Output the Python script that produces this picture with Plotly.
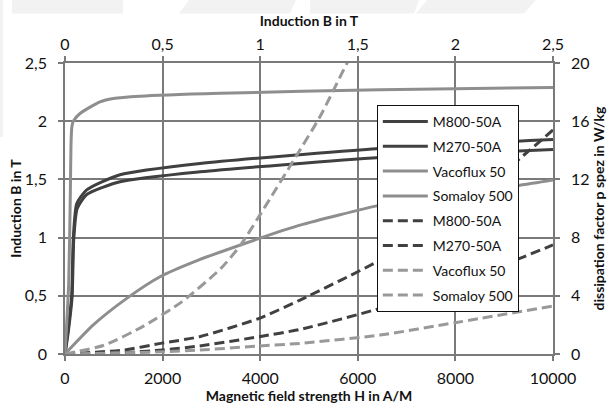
import plotly.graph_objects as go

# ---- Solid curves: B(H)  (bottom x: H in A/M, left y: B in T)
H_m800 = [0, 60, 135, 170, 240, 445, 1127, 2766, 6455, 10000]
B_m800 = [0, 0.2, 0.49, 0.99, 1.29, 1.41, 1.54, 1.637, 1.766, 1.843]
H_m270 = [0, 70, 145, 180, 250, 445, 1127, 2766, 6455, 10000]
B_m270 = [0, 0.2, 0.49, 0.99, 1.25, 1.37, 1.48, 1.565, 1.688, 1.757]
H_vaco = [0, 75, 110, 123, 140, 170, 307, 717, 990, 1537, 3176, 6455, 10000]
B_vaco = [0, 0.6, 1.4, 1.8, 1.95, 2.0, 2.066, 2.166, 2.195, 2.215, 2.24, 2.27, 2.29]
H_soma = [0, 580, 1265, 1947, 2630, 3982, 4816, 6455, 8000, 9324, 10000]
B_soma = [0, 0.25, 0.478, 0.664, 0.79, 0.993, 1.107, 1.279, 1.40, 1.45, 1.494]

# ---- Dashed curves: p(B)  (top x: B in T, right y: p in W/kg)
Bp_m800 = [0, 0.3, 0.49, 0.69, 0.995, 1.204, 1.614, 2.0, 2.35, 2.5]
P_m800 = [0, 0.27, 0.73, 1.19, 2.45, 3.71, 6.45, 9.7, 13.66, 15.4]
Bp_m270 = [0, 0.3, 0.5, 0.69, 0.995, 1.204, 1.614, 2.0, 2.35, 2.5]
P_m270 = [0, 0.1, 0.28, 0.55, 1.19, 1.69, 3.14, 4.95, 6.68, 7.5]
Bp_vaco = [0, 0.5, 0.69, 0.995, 1.204, 1.614, 1.998, 2.5]
P_vaco = [0, 0.15, 0.27, 0.55, 0.73, 1.3, 2.15, 3.3]
Bp_soma = [0, 0.2, 0.4, 0.6, 0.8, 0.9, 1.033, 1.187, 1.306, 1.445, 1.5]
P_soma = [0, 0.6, 1.9, 3.6, 5.9, 7.5, 10.3, 13.66, 16.3, 20.0, 21.4]

names = ["M800-50A", "M270-50A", "Vacoflux 50", "Somaloy 500"]

x_ticks_H = [0, 2000, 4000, 6000, 8000, 10000]
x_ticks_H_text = ["0", "2000", "4000", "6000", "8000", "10000"]
B_ticks = [0, 0.5, 1, 1.5, 2, 2.5]
B_ticks_text = ["0", "0,5", "1", "1,5", "2", "2,5"]
P_ticks = [0, 4, 8, 12, 16, 20]
P_ticks_text = ["0", "4", "8", "12", "16", "20"]

DARK = "#404040"
LIGHT = "#8e8e8e"
LIGHT_D = "#999999"
GRID = "#7a7a7a"
WATERMARK = "#f2f2f2"
FONT = "Lato"

W, H = 608, 408
ML, MR, MT, MB = 65, 55, 63, 54


def paper(px, py):
    """pixel position -> paper coordinates (decoration only)"""
    return (px - ML) / (W - ML - MR), (H - MB - py) / (H - MT - MB)


def poly(points):
    pts = [paper(x, y) for x, y in points]
    return "M " + " L ".join(f"{a:.4f},{b:.4f}" for a, b in pts) + " Z"


fig = go.Figure()

solid = [(H_m800, B_m800, DARK), (H_m270, B_m270, DARK),
         (H_vaco, B_vaco, LIGHT), (H_soma, B_soma, LIGHT)]
dashed = [(Bp_m800, P_m800, DARK), (Bp_m270, P_m270, DARK),
          (Bp_vaco, P_vaco, LIGHT_D), (Bp_soma, P_soma, LIGHT_D)]

for i, (x, y, c) in enumerate(solid):
    fig.add_trace(go.Scatter(x=x, y=y, mode="lines", name=names[i],
                             line=dict(color=c, width=3, shape="spline", smoothing=0.6),
                             legendgroup=f"s{i}", xaxis="x", yaxis="y"))
for i, (x, y, c) in enumerate(dashed):
    fig.add_trace(go.Scatter(x=x, y=y, mode="lines", name=names[i],
                             line=dict(color=c, width=3, dash="10px,5px", shape="spline", smoothing=0.6),
                             legendgroup=f"d{i}", xaxis="x2", yaxis="y2"))

axis_common = dict(showline=True, linecolor=GRID, linewidth=1.5, mirror=False,
                   ticks="outside", ticklen=5, tickwidth=1.5, tickcolor=GRID,
                   automargin=False,
                   tickfont=dict(family=FONT, size=16, color="#111"), zeroline=False)
title_font = dict(family=FONT, size=14, color="#111", weight="bold")

# faint watermark shapes at the top of the page
wm = [
    [(12, 0), (123, 0), (123, 13.6), (12, 13.6)],
    [(189, 0), (296, 0), (290, 13.6), (179, 13.6)],
    [(310, 0), (419, 0), (414, 13.6), (310, 13.6)],
    [(427, 0), (536, 0), (524, 13.6), (416, 13.6)],
    [(0, 0), (3, 0), (3, 137), (0, 137)],
]
shapes = [dict(type="path", xref="paper", yref="paper", path=poly(p),
               fillcolor=WATERMARK, line=dict(width=0), layer="below") for p in wm]

fig.update_layout(
    width=W, height=H,
    margin=dict(l=ML, r=MR, t=MT, b=MB),
    paper_bgcolor="white", plot_bgcolor="white",
    showlegend=True,
    shapes=shapes,
    legend=dict(x=0.639, y=0.856, xanchor="left", yanchor="top",
                bgcolor="white", bordercolor="#111", borderwidth=1,
                font=dict(family=FONT, size=14, color="#111"),
                tracegroupgap=3.6, itemwidth=45),
    xaxis=dict(range=[0, 10000], tickvals=x_ticks_H, ticktext=x_ticks_H_text,
               showgrid=True, gridcolor=GRID, gridwidth=1.5, ticklabelstandoff=4,
               title=dict(text="Magnetic field strength H in A/M", font=title_font, standoff=1),
               **axis_common),
    yaxis=dict(range=[0, 2.5], tickvals=B_ticks, ticktext=B_ticks_text,
               showgrid=True, gridcolor=GRID, gridwidth=1.5, ticklabelstandoff=8,
               title=dict(text="Induction B in T", font=title_font, standoff=0),
               **axis_common),
    xaxis2=dict(range=[0, 2.5], tickvals=B_ticks, ticktext=B_ticks_text,
                overlaying="x", side="top", anchor="y", showgrid=False,
                title=dict(text="Induction B in T", font=title_font, standoff=4),
                **axis_common),
    yaxis2=dict(range=[0, 20], tickvals=P_ticks, ticktext=P_ticks_text,
                overlaying="y", side="right", anchor="x", showgrid=False, ticklabelstandoff=8,
                title=dict(text="dissipation factor p spez in W/kg", font=title_font, standoff=0),
                **axis_common),
)

fig.write_html("out.html", config={"displayModeBar": False},
               post_script="document.body.style.margin='0';document.body.style.overflow='hidden';")
